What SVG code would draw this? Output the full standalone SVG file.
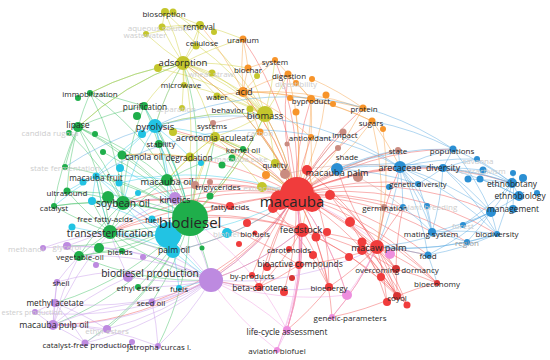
<svg xmlns="http://www.w3.org/2000/svg" width="550" height="360" viewBox="0 0 550 360">
<style>
text{font-family:"Open Sans","Noto Sans",sans-serif;fill:#262626;text-anchor:middle;dominant-baseline:central}
.f{fill:#cdcdcd}
.s{font-size:8px}.m{font-size:9.4px}.l{font-size:10.2px}.xl{font-size:15px}
#edges path{fill:none;stroke-width:.9;stroke-opacity:.5}
.er{stroke:#f25050}.eg{stroke:#3cbf62}.ey{stroke:#cfcf36}.eo{stroke:#f7a045}.eb{stroke:#55a6e0}.ec{stroke:#38cde8}.ep{stroke:#c597e8}.ek{stroke:#f09ae0}.en{stroke:#d09a90}
.Y{fill:#c4c62c}.O{fill:#f7942a}.R{fill:#f03c3c}.D{fill:#d63434}.G{fill:#1fae4b}.C{fill:#22c3e3}.B{fill:#2b8fd3}.P{fill:#bd8ae0}.K{fill:#ee8ede}.N{fill:#c98b80}
</style>
<rect width="550" height="360" fill="#fff"/>
<g id="edges">
<path class="er" d="M296 195A300 300 0 0 1 302 230"/><path class="er" d="M296 195A300 300 0 0 1 377 247"/><path class="er" d="M296 195A300 300 0 0 1 396 269"/><path class="er" d="M296 195A300 300 0 0 1 437 283"/><path class="er" d="M296 195A300 300 0 0 1 397 296"/><path class="er" d="M296 195A300 300 0 0 1 332 317"/><path class="er" d="M296 195A300 300 0 0 1 299 265"/><path class="er" d="M296 195A300 300 0 0 0 267 267"/><path class="er" d="M296 195A300 300 0 0 0 259 287"/><path class="er" d="M296 195A300 300 0 0 1 284 292"/><path class="er" d="M296 195A300 300 0 0 0 252 275"/><path class="er" d="M296 195A300 300 0 0 1 329 287"/><path class="er" d="M296 195A300 300 0 0 1 347 295"/><path class="er" d="M296 195A300 300 0 0 0 230 206"/><path class="er" d="M296 195A300 300 0 0 1 287 330"/><path class="er" d="M296 195A300 300 0 0 1 400 167"/><path class="er" d="M296 195A300 300 0 0 1 418 184"/><path class="er" d="M296 195A300 300 0 0 1 403 207"/><path class="er" d="M296 195A300 300 0 0 1 337 169"/><path class="er" d="M296 195A300 300 0 0 0 190 218"/><path class="er" d="M296 195A300 300 0 0 1 211 280"/><path class="er" d="M296 195A300 300 0 0 0 215 137"/><path class="er" d="M296 195A300 300 0 0 0 265 114"/><path class="er" d="M296 195A300 300 0 0 0 243 92"/><path class="er" d="M296 195A300 300 0 0 1 311 137"/><path class="er" d="M296 195A300 300 0 0 1 343 132"/><path class="er" d="M296 195A300 300 0 0 1 338 148"/><path class="er" d="M296 195A300 300 0 0 1 398 150"/><path class="er" d="M296 195A300 300 0 0 0 275 163"/><path class="er" d="M296 195A300 300 0 0 0 195 185"/><path class="er" d="M296 195A300 300 0 0 0 167 180"/><path class="er" d="M296 195A300 300 0 0 0 123 203"/><path class="er" d="M296 195A300 300 0 0 0 110 232"/><path class="er" d="M296 195A300 300 0 0 1 173 251"/><path class="er" d="M296 195A300 300 0 0 0 175 198"/><path class="er" d="M296 195A300 300 0 0 0 155 126"/><path class="er" d="M296 195A300 300 0 0 1 428 255"/><path class="er" d="M296 195A300 300 0 0 1 432 232"/><path class="er" d="M296 195A300 300 0 0 1 363 108"/><path class="er" d="M296 195A300 300 0 0 1 372 121"/><path class="er" d="M296 195A300 300 0 0 1 311 99"/><path class="er" d="M296 195A300 300 0 0 0 122 155"/><path class="er" d="M296 195A300 300 0 0 0 183 63"/><path class="er" d="M296 195A300 300 0 0 1 288 74"/><path class="er" d="M296 195A300 300 0 0 1 152 302"/><path class="er" d="M296 195A300 300 0 0 1 53 325"/><path class="er" d="M296 195A300 300 0 0 1 443 168"/><path class="er" d="M296 195A300 300 0 0 1 453 149"/><path class="er" d="M296 195A300 300 0 0 1 491 212"/><path class="er" d="M296 195A300 300 0 0 1 512 183"/><path class="er" d="M296 195A300 300 0 0 0 260 132"/><path class="er" d="M296 195A300 300 0 0 0 243 149"/><path class="er" d="M296 195A300 300 0 0 1 467 242"/><path class="er" d="M296 195A300 300 0 0 0 275 60"/><path class="er" d="M296 195A300 300 0 0 0 243 39"/><path class="er" d="M296 195A300 300 0 0 1 497 234"/>
<path class="er" d="M302 230A300 300 0 0 0 190 218"/><path class="er" d="M302 230A300 300 0 0 1 211 280"/><path class="er" d="M302 230A300 300 0 0 1 299 265"/><path class="er" d="M302 230A300 300 0 0 1 259 287"/><path class="er" d="M302 230A300 300 0 0 1 287 330"/><path class="er" d="M302 230A300 300 0 0 1 377 247"/><path class="er" d="M302 230A300 300 0 0 1 329 287"/><path class="er" d="M302 230A300 300 0 0 0 110 232"/><path class="er" d="M302 230A300 300 0 0 0 123 203"/><path class="er" d="M302 230A300 300 0 0 1 397 296"/><path class="er" d="M302 230A300 300 0 0 1 396 269"/>
<path class="er" d="M377 247A300 300 0 0 1 397 296"/><path class="er" d="M377 247A300 300 0 0 1 396 269"/><path class="er" d="M377 247A300 300 0 0 1 437 283"/><path class="er" d="M377 247A300 300 0 0 1 428 255"/><path class="er" d="M377 247A300 300 0 0 1 403 207"/><path class="er" d="M377 247A300 300 0 0 1 400 167"/><path class="er" d="M377 247A300 300 0 0 1 332 317"/><path class="er" d="M377 247A300 300 0 0 1 329 287"/><path class="er" d="M377 247A300 300 0 0 1 299 265"/><path class="er" d="M377 247A300 300 0 0 1 337 169"/><path class="er" d="M377 247A300 300 0 0 1 387 302"/><path class="er" d="M377 247A300 300 0 0 1 407 305"/><path class="er" d="M362 250A300 300 0 0 1 397 296"/><path class="er" d="M362 250A300 300 0 0 1 381 277"/>
<path class="er" d="M396 269A300 300 0 0 1 397 296"/><path class="er" d="M396 269A300 300 0 0 1 403 207"/><path class="er" d="M396 269A300 300 0 0 1 437 283"/><path class="er" d="M397 296A300 300 0 0 1 437 283"/><path class="er" d="M397 296A300 300 0 0 1 332 317"/><path class="er" d="M381 277A300 300 0 0 1 407 305"/><path class="er" d="M299 265A300 300 0 0 1 259 287"/><path class="er" d="M299 265A300 300 0 0 1 267 267"/><path class="er" d="M259 287A300 300 0 0 1 252 275"/><path class="er" d="M329 287A300 300 0 0 1 287 330"/><path class="er" d="M230 206A300 300 0 0 0 190 218"/><path class="er" d="M230 206A300 300 0 0 0 123 203"/><path class="er" d="M230 206A300 300 0 0 0 110 232"/><path class="er" d="M299 265A300 300 0 0 0 190 218"/><path class="er" d="M259 287A300 300 0 0 1 211 280"/><path class="er" d="M330 195A300 300 0 0 1 396 269"/><path class="er" d="M350 222A300 300 0 0 1 397 296"/><path class="er" d="M307 170A300 300 0 0 1 377 247"/><path class="er" d="M316 237A300 300 0 0 1 407 305"/><path class="er" d="M273 208A300 300 0 0 1 329 287"/><path class="er" d="M330 195A300 300 0 0 1 387 302"/><path class="er" d="M350 222A300 300 0 0 1 437 283"/><path class="er" d="M307 170A300 300 0 0 1 329 287"/><path class="er" d="M362 242A300 300 0 0 1 407 305"/>
<path class="eg" d="M190 218A300 300 0 0 1 110 232"/><path class="eg" d="M190 218A300 300 0 0 0 123 203"/><path class="eg" d="M190 218A300 300 0 0 0 122 155"/><path class="eg" d="M190 218A300 300 0 0 0 167 180"/><path class="eg" d="M190 218A300 300 0 0 0 78 127"/><path class="eg" d="M190 218A300 300 0 0 0 90 93"/><path class="eg" d="M190 218A300 300 0 0 0 144 106"/><path class="eg" d="M190 218A300 300 0 0 0 159 144"/><path class="eg" d="M190 218A300 300 0 0 0 190 157"/><path class="eg" d="M190 218A300 300 0 0 0 67 191"/><path class="eg" d="M190 218A300 300 0 0 0 54 206"/><path class="eg" d="M190 218A300 300 0 0 0 92 201"/><path class="eg" d="M190 218A300 300 0 0 1 79 256"/><path class="eg" d="M190 218A300 300 0 0 1 122 251"/><path class="eg" d="M190 218A300 300 0 0 1 173 251"/><path class="eg" d="M190 218A300 300 0 0 1 138 287"/><path class="eg" d="M190 218A300 300 0 0 1 211 280"/><path class="eg" d="M190 218A300 300 0 0 0 155 126"/><path class="eg" d="M190 218A300 300 0 0 0 96 176"/><path class="eg" d="M190 218A300 300 0 0 0 65 167"/><path class="eg" d="M190 218A300 300 0 0 0 243 149"/><path class="eg" d="M190 218A300 300 0 0 0 215 137"/><path class="eg" d="M190 218A300 300 0 0 0 183 63"/><path class="eg" d="M190 218A300 300 0 0 0 265 114"/><path class="eg" d="M190 218A300 300 0 0 1 53 325"/><path class="eg" d="M190 218A300 300 0 0 1 55 303"/><path class="eg" d="M190 218A300 300 0 0 1 85 343"/><path class="eg" d="M190 218A300 300 0 0 1 152 302"/><path class="eg" d="M190 218A300 300 0 0 1 158 346"/><path class="eg" d="M190 218A300 300 0 0 1 67 246"/><path class="eg" d="M190 218A300 300 0 0 1 107 329"/>
<path class="eg" d="M78 127A300 300 0 0 1 90 93"/><path class="eg" d="M78 127A300 300 0 0 1 144 106"/><path class="eg" d="M78 127A300 300 0 0 1 110 232"/><path class="eg" d="M78 127A300 300 0 0 1 123 203"/><path class="eg" d="M78 127A300 300 0 0 0 67 191"/><path class="eg" d="M78 127A300 300 0 0 0 54 206"/><path class="eg" d="M78 127A300 300 0 0 0 65 167"/><path class="eg" d="M78 127A300 300 0 0 1 167 180"/><path class="eg" d="M78 127A300 300 0 0 1 122 155"/><path class="eg" d="M78 127A300 300 0 0 1 183 63"/><path class="eg" d="M110 232A300 300 0 0 1 123 203"/><path class="eg" d="M110 232A300 300 0 0 1 54 206"/><path class="eg" d="M110 232A300 300 0 0 1 67 191"/><path class="eg" d="M110 232A300 300 0 0 0 79 256"/><path class="eg" d="M110 232A300 300 0 0 1 92 201"/><path class="eg" d="M110 232A300 300 0 0 0 122 251"/><path class="eg" d="M110 232A300 300 0 0 0 211 280"/><path class="eg" d="M110 232A300 300 0 0 1 96 176"/><path class="eg" d="M110 232A300 300 0 0 0 173 251"/><path class="eg" d="M110 232A300 300 0 0 1 167 180"/><path class="eg" d="M123 203A300 300 0 0 1 167 180"/><path class="eg" d="M123 203A300 300 0 0 1 122 155"/><path class="eg" d="M123 203A300 300 0 0 0 92 201"/><path class="eg" d="M123 203A300 300 0 0 0 54 206"/><path class="eg" d="M123 203A300 300 0 0 0 67 191"/><path class="eg" d="M123 203A300 300 0 0 0 79 256"/><path class="eg" d="M123 203A300 300 0 0 1 144 106"/><path class="eg" d="M90 93A300 300 0 0 1 144 106"/><path class="eg" d="M90 93A300 300 0 0 1 123 203"/><path class="eg" d="M90 93A300 300 0 0 1 183 63"/><path class="eg" d="M79 256A300 300 0 0 1 122 251"/><path class="eg" d="M79 256A300 300 0 0 0 211 280"/><path class="eg" d="M243 149A300 300 0 0 0 215 137"/><path class="eg" d="M243 149A300 300 0 0 0 167 180"/><path class="eg" d="M144 106A300 300 0 0 1 167 180"/><path class="eg" d="M103 152A300 300 0 0 1 190 218"/><path class="eg" d="M69 133A300 300 0 0 1 123 203"/>
<path class="ec" d="M155 126A300 300 0 0 1 190 218"/><path class="ec" d="M155 126A300 300 0 0 0 122 155"/><path class="ec" d="M155 126A300 300 0 0 1 159 144"/><path class="ec" d="M155 126A300 300 0 0 0 96 176"/><path class="ec" d="M155 126A300 300 0 0 0 123 203"/><path class="ec" d="M155 126A300 300 0 0 1 183 63"/><path class="ec" d="M155 126A300 300 0 0 1 173 251"/><path class="ec" d="M155 126A300 300 0 0 1 265 114"/><path class="ec" d="M155 126A300 300 0 0 1 144 106"/><path class="ec" d="M155 126A300 300 0 0 1 167 180"/><path class="ec" d="M155 126A300 300 0 0 1 190 157"/><path class="ec" d="M155 126A300 300 0 0 1 215 137"/><path class="ec" d="M173 251A300 300 0 0 0 110 232"/><path class="ec" d="M173 251A300 300 0 0 0 296 195"/><path class="ec" d="M173 251A300 300 0 0 0 211 280"/><path class="ec" d="M173 251A300 300 0 0 1 123 203"/><path class="ec" d="M173 251A300 300 0 0 1 179 288"/><path class="ec" d="M168 235A300 300 0 0 1 110 232"/><path class="ec" d="M168 235A300 300 0 0 0 123 203"/><path class="ec" d="M168 235A300 300 0 0 0 96 176"/><path class="ec" d="M168 235A300 300 0 0 0 92 201"/><path class="ec" d="M168 235A300 300 0 0 0 167 180"/><path class="ec" d="M168 235A300 300 0 0 0 152 219"/><path class="ec" d="M168 235A300 300 0 0 0 296 195"/><path class="ec" d="M168 235A300 300 0 0 0 211 280"/><path class="ec" d="M168 235A300 300 0 0 1 72 227"/><path class="ec" d="M96 176A300 300 0 0 1 123 203"/><path class="ec" d="M96 176A300 300 0 0 0 110 232"/><path class="ec" d="M96 176A300 300 0 0 1 167 180"/><path class="ec" d="M96 176A300 300 0 0 0 92 201"/><path class="ec" d="M96 176A300 300 0 0 0 67 191"/><path class="ec" d="M96 176A300 300 0 0 0 54 206"/><path class="ec" d="M179 288A300 300 0 0 1 211 280"/><path class="ec" d="M120 168A300 300 0 0 1 190 218"/><path class="ec" d="M119 183A300 300 0 0 1 296 195"/>
<path class="ep" d="M211 280A300 300 0 0 0 57 282"/><path class="ep" d="M211 280A300 300 0 0 1 55 303"/><path class="ep" d="M211 280A300 300 0 0 1 53 325"/><path class="ep" d="M211 280A300 300 0 0 1 107 329"/><path class="ep" d="M211 280A300 300 0 0 1 85 343"/><path class="ep" d="M211 280A300 300 0 0 1 158 346"/><path class="ep" d="M211 280A300 300 0 0 1 152 302"/><path class="ep" d="M211 280A300 300 0 0 1 35 312"/><path class="ep" d="M211 280A300 300 0 0 0 67 246"/><path class="ep" d="M211 280A300 300 0 0 0 43 248"/><path class="ep" d="M211 280A300 300 0 0 0 79 256"/><path class="ep" d="M211 280A300 300 0 0 1 138 287"/><path class="ep" d="M211 280A300 300 0 0 0 175 198"/><path class="ep" d="M211 280A300 300 0 0 0 110 232"/><path class="ep" d="M211 280A300 300 0 0 0 123 203"/><path class="ep" d="M211 280A300 300 0 0 0 296 195"/><path class="ep" d="M211 280A300 300 0 0 0 302 230"/><path class="ep" d="M211 280A300 300 0 0 0 329 287"/><path class="ep" d="M211 280A300 300 0 0 0 377 247"/><path class="ep" d="M211 280A300 300 0 0 1 128 277"/>
<path class="ep" d="M53 325A300 300 0 0 0 55 303"/><path class="ep" d="M53 325A300 300 0 0 1 85 343"/><path class="ep" d="M53 325A300 300 0 0 1 107 329"/><path class="ep" d="M53 325A300 300 0 0 1 158 346"/><path class="ep" d="M53 325A300 300 0 0 1 35 312"/><path class="ep" d="M53 325A300 300 0 0 1 57 282"/><path class="ep" d="M53 325A300 300 0 0 1 110 232"/><path class="ep" d="M53 325A300 300 0 0 1 79 256"/><path class="ep" d="M53 325A300 300 0 0 1 152 302"/><path class="ep" d="M55 303A300 300 0 0 1 85 343"/><path class="ep" d="M55 303A300 300 0 0 1 107 329"/><path class="ep" d="M55 303A300 300 0 0 1 57 282"/><path class="ep" d="M55 303A300 300 0 0 0 35 312"/><path class="ep" d="M175 198A300 300 0 0 1 190 218"/><path class="ep" d="M175 198A300 300 0 0 0 123 203"/><path class="ep" d="M175 198A300 300 0 0 1 167 180"/><path class="ep" d="M175 198A300 300 0 0 0 110 232"/><path class="ep" d="M67 246A300 300 0 0 1 110 232"/><path class="ep" d="M67 246A300 300 0 0 0 79 256"/><path class="ep" d="M43 248A300 300 0 0 1 110 232"/><path class="ep" d="M85 343A300 300 0 0 0 158 346"/><path class="ep" d="M85 343A300 300 0 0 1 107 329"/><path class="ep" d="M158 346A300 300 0 0 0 152 302"/><path class="ep" d="M57 282A300 300 0 0 1 79 256"/><path class="ep" d="M128 277A300 300 0 0 0 53 325"/><path class="ep" d="M128 277A300 300 0 0 1 110 232"/>
<path class="ek" d="M287 330A300 300 0 0 0 211 280"/><path class="ek" d="M287 330A300 300 0 0 0 302 230"/><path class="ek" d="M287 330A300 300 0 0 1 277 350"/><path class="ek" d="M287 330A300 300 0 0 0 190 218"/><path class="ek" d="M287 330A300 300 0 0 0 296 195"/><path class="ek" d="M277 350A300 300 0 0 1 211 280"/><path class="ek" d="M277 350A300 300 0 0 0 302 230"/><path class="ek" d="M277 350A300 300 0 0 0 296 195"/><path class="ek" d="M347 295A300 300 0 0 0 296 195"/><path class="ek" d="M347 295A300 300 0 0 1 211 280"/><path class="ek" d="M347 295A300 300 0 0 0 377 247"/><path class="ek" d="M332 317A300 300 0 0 0 377 247"/><path class="ek" d="M390 254A300 300 0 0 0 296 195"/>
<path class="ey" d="M183 63A300 300 0 0 0 165 12"/><path class="ey" d="M183 63A300 300 0 0 0 200 25"/><path class="ey" d="M183 63A300 300 0 0 1 162 27"/><path class="ey" d="M183 63A300 300 0 0 1 146 34"/><path class="ey" d="M183 63A300 300 0 0 0 196 44"/><path class="ey" d="M183 63A300 300 0 0 1 184 85"/><path class="ey" d="M183 63A300 300 0 0 1 212 73"/><path class="ey" d="M183 63A300 300 0 0 1 217 96"/><path class="ey" d="M183 63A300 300 0 0 1 265 114"/><path class="ey" d="M183 63A300 300 0 0 1 243 92"/><path class="ey" d="M183 63A300 300 0 0 1 248 68"/><path class="ey" d="M183 63A300 300 0 0 1 243 39"/><path class="ey" d="M183 63A300 300 0 0 0 155 126"/><path class="ey" d="M183 63A300 300 0 0 0 78 127"/><path class="ey" d="M183 63A300 300 0 0 0 90 93"/><path class="ey" d="M183 63A300 300 0 0 0 144 106"/><path class="ey" d="M183 63A300 300 0 0 1 182 108"/><path class="ey" d="M183 63A300 300 0 0 1 215 137"/><path class="ey" d="M183 63A300 300 0 0 1 190 157"/><path class="ey" d="M183 63A300 300 0 0 1 296 195"/><path class="ey" d="M165 12A300 300 0 0 1 200 25"/><path class="ey" d="M165 12A300 300 0 0 0 162 27"/><path class="ey" d="M165 12A300 300 0 0 1 196 44"/><path class="ey" d="M200 25A300 300 0 0 0 162 27"/><path class="ey" d="M200 25A300 300 0 0 1 196 44"/><path class="ey" d="M200 25A300 300 0 0 0 146 34"/><path class="ey" d="M200 25A300 300 0 0 1 243 39"/><path class="ey" d="M173 12A300 300 0 0 1 265 114"/>
<path class="ey" d="M265 114A300 300 0 0 0 243 92"/><path class="ey" d="M265 114A300 300 0 0 0 217 96"/><path class="ey" d="M265 114A300 300 0 0 0 250 109"/><path class="ey" d="M265 114A300 300 0 0 0 248 68"/><path class="ey" d="M265 114A300 300 0 0 0 275 60"/><path class="ey" d="M265 114A300 300 0 0 0 288 74"/><path class="ey" d="M265 114A300 300 0 0 0 155 126"/><path class="ey" d="M265 114A300 300 0 0 1 215 137"/><path class="ey" d="M265 114A300 300 0 0 1 275 163"/><path class="ey" d="M265 114A300 300 0 0 0 184 85"/><path class="ey" d="M265 114A300 300 0 0 0 196 44"/><path class="ey" d="M265 114A300 300 0 0 0 212 73"/><path class="ey" d="M265 114A300 300 0 0 1 296 195"/><path class="ey" d="M265 114A300 300 0 0 1 190 218"/><path class="ey" d="M215 137A300 300 0 0 1 296 195"/><path class="ey" d="M215 137A300 300 0 0 0 190 157"/><path class="ey" d="M215 137A300 300 0 0 0 213 123"/><path class="ey" d="M215 137A300 300 0 0 1 243 149"/><path class="ey" d="M215 137A300 300 0 0 0 190 218"/><path class="ey" d="M215 137A300 300 0 0 1 275 163"/><path class="ey" d="M215 137A300 300 0 0 0 195 185"/><path class="ey" d="M215 137A300 300 0 0 0 167 180"/><path class="ey" d="M215 137A300 300 0 0 1 262 187"/><path class="ey" d="M190 157A300 300 0 0 0 167 180"/><path class="ey" d="M190 157A300 300 0 0 0 122 155"/><path class="ey" d="M275 163A300 300 0 0 1 296 195"/><path class="ey" d="M262 187A300 300 0 0 1 296 195"/><path class="ey" d="M173 132A300 300 0 0 1 296 195"/><path class="ey" d="M158 68A300 300 0 0 1 265 114"/>
<path class="eo" d="M243 92A300 300 0 0 1 243 39"/><path class="eo" d="M243 92A300 300 0 0 1 248 68"/><path class="eo" d="M243 92A300 300 0 0 1 288 74"/><path class="eo" d="M243 92A300 300 0 0 1 275 60"/><path class="eo" d="M243 92A300 300 0 0 1 311 99"/><path class="eo" d="M243 92A300 300 0 0 1 296 195"/><path class="eo" d="M243 92A300 300 0 0 0 217 96"/><path class="eo" d="M243 92A300 300 0 0 1 372 121"/><path class="eo" d="M243 92A300 300 0 0 1 363 108"/><path class="eo" d="M243 92A300 300 0 0 1 311 137"/><path class="eo" d="M243 92A300 300 0 0 1 260 132"/><path class="eo" d="M243 92A300 300 0 0 0 200 25"/><path class="eo" d="M311 99A300 300 0 0 1 363 108"/><path class="eo" d="M311 99A300 300 0 0 1 372 121"/><path class="eo" d="M311 99A300 300 0 0 0 288 74"/><path class="eo" d="M311 99A300 300 0 0 0 296 83"/><path class="eo" d="M311 99A300 300 0 0 1 296 195"/><path class="eo" d="M311 99A300 300 0 0 1 311 137"/><path class="eo" d="M288 74A300 300 0 0 0 275 60"/><path class="eo" d="M288 74A300 300 0 0 1 296 83"/><path class="eo" d="M288 74A300 300 0 0 1 296 195"/><path class="eo" d="M372 121A300 300 0 0 1 296 195"/><path class="eo" d="M372 121A300 300 0 0 1 377 247"/><path class="eo" d="M372 121A300 300 0 0 1 400 167"/><path class="eo" d="M363 108A300 300 0 0 1 296 195"/><path class="eo" d="M275 60A300 300 0 0 0 248 68"/><path class="eo" d="M243 39A300 300 0 0 1 248 68"/><path class="eo" d="M260 132A300 300 0 0 1 296 195"/><path class="eo" d="M311 137A300 300 0 0 1 302 230"/><path class="eo" d="M326 95A300 300 0 0 1 296 195"/><path class="eo" d="M383 129A300 300 0 0 1 377 247"/><path class="eo" d="M296 112A300 300 0 0 1 296 195"/><path class="eo" d="M312 79A300 300 0 0 1 363 108"/>
<path class="eb" d="M400 167A300 300 0 0 0 398 150"/><path class="eb" d="M400 167A300 300 0 0 1 453 149"/><path class="eb" d="M400 167A300 300 0 0 1 443 168"/><path class="eb" d="M400 167A300 300 0 0 1 418 184"/><path class="eb" d="M400 167A300 300 0 0 1 403 207"/><path class="eb" d="M400 167A300 300 0 0 0 337 169"/><path class="eb" d="M400 167A300 300 0 0 1 377 247"/><path class="eb" d="M400 167A300 300 0 0 1 512 183"/><path class="eb" d="M400 167A300 300 0 0 1 491 212"/><path class="eb" d="M400 167A300 300 0 0 1 432 232"/><path class="eb" d="M400 167A300 300 0 0 1 427 206"/><path class="eb" d="M400 167A300 300 0 0 1 428 255"/><path class="eb" d="M400 167A300 300 0 0 1 497 234"/><path class="eb" d="M400 167A300 300 0 0 1 477 159"/><path class="eb" d="M400 167A300 300 0 0 0 65 167"/><path class="eb" d="M400 167A300 300 0 0 0 96 176"/>
<path class="eb" d="M443 168A300 300 0 0 0 453 149"/><path class="eb" d="M443 168A300 300 0 0 1 512 183"/><path class="eb" d="M443 168A300 300 0 0 1 491 212"/><path class="eb" d="M443 168A300 300 0 0 1 477 159"/><path class="eb" d="M443 168A300 300 0 0 1 483 170"/><path class="eb" d="M443 168A300 300 0 0 1 418 184"/><path class="eb" d="M443 168A300 300 0 0 1 432 232"/><path class="eb" d="M443 168A300 300 0 0 1 497 234"/><path class="eb" d="M443 168A300 300 0 0 1 519 196"/><path class="eb" d="M512 183A300 300 0 0 1 519 196"/><path class="eb" d="M512 183A300 300 0 0 1 491 212"/><path class="eb" d="M512 183A300 300 0 0 0 453 149"/><path class="eb" d="M512 183A300 300 0 0 0 477 159"/><path class="eb" d="M512 183A300 300 0 0 0 483 170"/><path class="eb" d="M512 183A300 300 0 0 1 497 234"/><path class="eb" d="M512 183A300 300 0 0 1 463 225"/><path class="eb" d="M491 212A300 300 0 0 1 497 234"/><path class="eb" d="M491 212A300 300 0 0 1 463 225"/><path class="eb" d="M491 212A300 300 0 0 0 519 196"/><path class="eb" d="M491 212A300 300 0 0 1 432 232"/><path class="eb" d="M491 212A300 300 0 0 1 467 242"/><path class="eb" d="M491 212A300 300 0 0 1 428 255"/><path class="eb" d="M491 212A300 300 0 0 0 453 149"/><path class="eb" d="M491 212A300 300 0 0 1 377 247"/><path class="eb" d="M337 169A300 300 0 0 1 443 168"/><path class="eb" d="M337 169A300 300 0 0 1 418 184"/><path class="eb" d="M337 169A300 300 0 0 1 453 149"/><path class="eb" d="M337 169A300 300 0 0 1 398 150"/><path class="eb" d="M497 234A300 300 0 0 1 467 242"/><path class="eb" d="M497 234A300 300 0 0 1 428 255"/><path class="eb" d="M497 234A300 300 0 0 1 377 247"/><path class="eb" d="M497 234A300 300 0 0 0 432 232"/><path class="eb" d="M432 232A300 300 0 0 0 418 184"/><path class="eb" d="M432 232A300 300 0 0 0 427 206"/><path class="eb" d="M432 232A300 300 0 0 1 467 242"/><path class="eb" d="M432 232A300 300 0 0 0 403 207"/><path class="eb" d="M428 255A300 300 0 0 0 377 247"/><path class="eb" d="M428 255A300 300 0 0 1 437 283"/><path class="eb" d="M467 242A300 300 0 0 1 377 247"/><path class="eb" d="M453 149A300 300 0 0 0 372 121"/><path class="eb" d="M453 149A300 300 0 0 0 155 126"/><path class="eb" d="M468 179A300 300 0 0 1 512 183"/><path class="eb" d="M480 179A300 300 0 0 1 519 196"/><path class="eb" d="M523 178A300 300 0 0 1 537 193"/><path class="eb" d="M513 173A300 300 0 0 1 513 209"/>
<path class="en" d="M398 150A300 300 0 0 0 296 195"/><path class="en" d="M338 148A300 300 0 0 0 296 195"/><path class="en" d="M343 132A300 300 0 0 0 296 195"/><path class="en" d="M213 123A300 300 0 0 1 265 114"/><path class="en" d="M195 185A300 300 0 0 0 190 218"/><path class="en" d="M195 185A300 300 0 0 0 167 180"/><path class="en" d="M285 174A300 300 0 0 1 400 167"/><path class="en" d="M358 177A300 300 0 0 1 403 207"/><path class="en" d="M384 207A300 300 0 0 1 377 247"/>
</g>
<g id="minor-nodes">
<circle class="R" cx="330" cy="195" r="5"/><circle class="R" cx="307" cy="170" r="5"/><circle class="R" cx="350" cy="222" r="5"/><circle class="R" cx="316" cy="237" r="4.5"/><circle class="R" cx="273" cy="208" r="5"/><circle class="R" cx="247" cy="223" r="4"/><circle class="R" cx="239" cy="244" r="3"/><circle class="R" cx="313" cy="255" r="4"/><circle class="R" cx="349" cy="257" r="4"/><circle class="R" cx="362" cy="242" r="4.5"/><circle class="D" cx="292" cy="278" r="3"/><circle class="R" cx="327" cy="232" r="4"/><circle class="R" cx="362" cy="250" r="5"/><circle class="R" cx="381" cy="277" r="4"/><circle class="R" cx="387" cy="302" r="4"/><circle class="R" cx="407" cy="305" r="3.5"/><circle class="R" cx="267" cy="267" r="4"/><circle class="R" cx="284" cy="292" r="4"/><circle class="K" cx="347" cy="295" r="5"/><circle class="K" cx="390" cy="254" r="5"/>
<circle class="N" cx="285" cy="174" r="5"/><circle class="N" cx="358" cy="177" r="5"/><circle class="N" cx="384" cy="207" r="3"/><circle class="N" cx="287" cy="144" r="2.5"/><circle class="N" cx="210" cy="182" r="3"/>
<circle class="Y" cx="158" cy="68" r="4"/><circle class="Y" cx="173" cy="12" r="3.5"/><circle class="Y" cx="214" cy="32" r="3"/><circle class="Y" cx="257" cy="76" r="3"/><circle class="Y" cx="173" cy="132" r="4"/>
<circle class="O" cx="312" cy="79" r="3"/><circle class="O" cx="290" cy="98" r="3"/><circle class="O" cx="326" cy="95" r="3.5"/><circle class="O" cx="333" cy="104" r="3"/><circle class="O" cx="296" cy="112" r="3.5"/><circle class="O" cx="383" cy="129" r="3"/><circle class="O" cx="266" cy="175" r="4"/>
<circle class="B" cx="389" cy="187" r="3"/><circle class="B" cx="468" cy="179" r="3.5"/><circle class="B" cx="480" cy="179" r="3.5"/><circle class="B" cx="523" cy="178" r="4"/><circle class="B" cx="513" cy="173" r="3"/><circle class="B" cx="537" cy="193" r="3"/><circle class="B" cx="513" cy="209" r="4"/>
<circle class="G" cx="69" cy="133" r="3"/><circle class="G" cx="95" cy="134" r="3"/><circle class="G" cx="103" cy="152" r="3"/><circle class="G" cx="78" cy="98" r="3"/><circle class="G" cx="137" cy="116" r="4"/><circle class="G" cx="108" cy="197" r="6"/><circle class="G" cx="99" cy="248" r="5"/><circle class="G" cx="232" cy="158" r="3.5"/><circle class="G" cx="222" cy="165" r="3.5"/><circle class="G" cx="210" cy="196" r="3.5"/><circle class="G" cx="202" cy="248" r="2.5"/>
<circle class="C" cx="142" cy="134" r="4"/><circle class="C" cx="83" cy="182" r="3.5"/><circle class="C" cx="120" cy="168" r="4"/><circle class="C" cx="119" cy="183" r="3.5"/><circle class="C" cx="92" cy="201" r="4"/><circle class="C" cx="72" cy="227" r="3.5"/><circle class="C" cx="138" cy="193" r="3"/><circle class="C" cx="201" cy="163" r="3"/>
<circle class="P" cx="128" cy="277" r="5"/><circle class="P" cx="43" cy="248" r="3"/><circle class="P" cx="132" cy="342" r="3"/><circle class="P" cx="96" cy="265" r="3"/><circle class="P" cx="143" cy="257" r="3"/>
</g>
<g id="nodes">
<g id="n-macauba"><circle class="R" cx="280" cy="200" r="10"/><circle class="R" cx="312" cy="202" r="10"/><circle class="R" cx="297" cy="194" r="17"/><text class="xl" x="292" y="201">macauba</text></g>
<g id="n-biodiesel"><circle class="C" cx="168" cy="235" r="13"/><circle class="G" cx="190" cy="218" r="18"/><text class="xl" x="190" y="222">biodiesel</text></g>
<g id="n-biodiesel-production"><circle class="P" cx="211" cy="280" r="12"/><text class="l" x="150" y="273">biodiesel production</text></g>
<g id="n-feedstock"><circle class="R" cx="302" cy="230" r="7"/><text class="m" x="301" y="229">feedstock</text></g>
<g id="n-macaw-palm"><circle class="R" cx="377" cy="247" r="7"/><text class="m" x="379" y="247">macaw palm</text></g>
<g id="n-transesterification"><circle class="G" cx="110" cy="232" r="7"/><text class="l" x="110" y="233">transesterification</text></g>
<g id="n-soybean-oil"><circle class="G" cx="123" cy="203" r="7"/><text class="l" x="123" y="203">soybean oil</text></g>
<g id="n-palm-oil"><circle class="C" cx="173" cy="251" r="7"/><text class="m" style="font-size:8.6px" x="174" y="250">palm oil</text></g>
<g id="n-kinetics"><circle class="P" cx="175" cy="198" r="6"/><text class="m" style="font-size:8.8px" x="175" y="200">kinetics</text></g>
<g id="n-macauba-oil"><circle class="G" cx="167" cy="180" r="6"/><text class="m" x="167" y="181">macauba oil</text></g>
<g id="n-pyrolysis"><circle class="C" cx="155" cy="126" r="7"/><text class="m" x="155" y="126">pyrolysis</text></g>
<g id="n-adsorption"><circle class="Y" cx="183" cy="63" r="7"/><text class="m" style="font-size:9.6px" x="183" y="62">adsorption</text></g>
<g id="n-biomass"><circle class="Y" cx="265" cy="114" r="8"/><text class="m" x="265" y="115">biomass</text></g>
<g id="n-acrocomia-aculeata"><circle class="Y" cx="215" cy="137" r="5"/><text class="s" style="font-size:8.6px" x="215" y="138">acrocomia aculeata</text></g>
<g id="n-macauba-palm"><circle class="B" cx="337" cy="169" r="6"/><text class="m" style="font-size:9.1px" x="337" y="172">macauba palm</text></g>
<g id="n-arecaceae"><circle class="B" cx="400" cy="167" r="6"/><text class="m" style="font-size:9.1px" x="400" y="167">arecaceae</text></g>
<g id="n-biosorption"><circle class="Y" cx="165" cy="12" r="4"/><text class="s" x="164" y="13">biosorption</text></g>
<g id="n-removal"><circle class="Y" cx="200" cy="25" r="4"/><text class="s" style="font-size:8.4px" x="199" y="26">removal</text></g>
<g id="n-aqueous-solution"><circle class="Y" cx="162" cy="27" r="3.5"/><text class="s f" x="160" y="27">aqueous solution</text></g>
<g id="n-wastewater"><circle class="Y" cx="146" cy="34" r="3"/><text class="s f" x="145" y="34">wastewater</text></g>
<g id="n-cellulose"><circle class="Y" cx="196" cy="46" r="3.5"/><text class="s" x="202" y="42">cellulose</text></g>
<g id="n-microwave"><circle class="Y" cx="184" cy="85" r="3"/><text class="s" x="181" y="84">microwave</text></g>
<g id="n-wheat-straw"><circle class="Y" cx="212" cy="73" r="3.5"/><text class="s f" x="211" y="73">wheat straw</text></g>
<g id="n-water"><circle class="Y" cx="217" cy="96" r="3.5"/><text class="s" x="217" y="96">water</text></g>
<g id="n-behavior"><circle class="Y" cx="250" cy="109" r="3.5"/><text class="s" x="228" y="109">behavior</text></g>
<g id="n-separation"><circle class="Y" cx="182" cy="108" r="3"/><text class="s f" x="176" y="108">separation</text></g>
<g id="n-degradation"><circle class="Y" cx="190" cy="157" r="4.5"/><text class="s" style="font-size:8.3px" x="189" y="157">degradation</text></g>
<g id="n-quality"><circle class="Y" cx="275" cy="163" r="4"/><text class="s" x="275" y="164">quality</text></g>
<g id="n-extraction"><circle class="Y" cx="262" cy="187" r="5"/><text class="s f" x="262" y="187">extraction</text></g>
<g id="n-uranium"><circle class="O" cx="243" cy="39" r="3.5"/><text class="s" x="243" y="39">uranium</text></g>
<g id="n-system"><circle class="O" cx="275" cy="60" r="3"/><text class="s" x="275" y="61">system</text></g>
<g id="n-biochar"><circle class="O" cx="248" cy="68" r="3.5"/><text class="s" x="248" y="69">biochar</text></g>
<g id="n-digestion"><circle class="O" cx="288" cy="74" r="3.5"/><text class="s" x="289" y="75">digestion</text></g>
<g id="n-digestibility"><circle class="O" cx="296" cy="83" r="3"/><text class="s f" x="296" y="83">digestibility</text></g>
<g id="n-acid"><circle class="O" cx="243" cy="92" r="5"/><text class="s" style="font-size:9px" x="244" y="91">acid</text></g>
<g id="n-byproduct"><circle class="O" cx="311" cy="99" r="4"/><text class="s" x="311" y="100">byproduct</text></g>
<g id="n-protein"><circle class="O" cx="363" cy="108" r="3.5"/><text class="s" x="364" y="108">protein</text></g>
<g id="n-sugars"><circle class="O" cx="372" cy="121" r="3.5"/><text class="s" x="371" y="122">sugars</text></g>
<g id="n-antioxidant"><circle class="O" cx="311" cy="137" r="3"/><text class="s" x="310" y="137">antioxidant</text></g>
<g id="n-carbon"><circle class="O" cx="260" cy="132" r="3.5"/><text class="s f" x="260" y="132">carbon</text></g>
<g id="n-impact"><circle class="N" cx="343" cy="132" r="3.5"/><text class="s" x="345" y="134">impact</text></g>
<g id="n-shade"><circle class="N" cx="338" cy="148" r="3"/><text class="s" x="347" y="156">shade</text></g>
<g id="n-state"><circle class="N" cx="398" cy="150" r="3"/><text class="s" x="398" y="150">state</text></g>
<g id="n-systems"><circle class="N" cx="213" cy="123" r="3"/><text class="s" x="212" y="125">systems</text></g>
<g id="n-triglycerides"><circle class="N" cx="195" cy="185" r="4"/><text class="s" x="218" y="186">triglycerides</text></g>
<g id="n-kernel-oil"><circle class="G" cx="243" cy="149" r="3"/><text class="s" x="243" y="149">kernel oil</text></g>
<g id="n-macauba-cake"><text class="s f" x="241" y="158">macauba cake</text></g>
<g id="n-overcoming-dormancy"><circle class="D" cx="396" cy="269" r="4"/><text class="s" x="397" y="269">overcoming dormancy</text></g>
<g id="n-bioeconomy"><circle class="D" cx="437" cy="283" r="3"/><text class="s" x="437" y="283">bioeconomy</text></g>
<g id="n-coyol"><circle class="D" cx="397" cy="296" r="4"/><text class="s" x="397" y="297">coyol</text></g>
<g id="n-genetic-parameters"><circle class="K" cx="332" cy="317" r="3"/><text class="s" x="350" y="317">genetic-parameters</text></g>
<g id="n-bioactive-compounds"><circle class="R" cx="299" cy="265" r="4"/><text class="s" style="font-size:8.6px" x="300" y="264">bioactive compounds</text></g>
<g id="n-carotenoids"><circle class="R" cx="289" cy="249" r="3"/><text class="s" x="289" y="249">carotenoids</text></g>
<g id="n-beta-carotene"><circle class="R" cx="259" cy="287" r="4"/><text class="s" style="font-size:8.5px" x="260" y="287">beta-carotene</text></g>
<g id="n-by-products"><circle class="R" cx="252" cy="275" r="3"/><text class="s" x="252" y="275">by-products</text></g>
<g id="n-bioenergy"><circle class="R" cx="329" cy="287" r="4"/><text class="s" x="329" y="287">bioenergy</text></g>
<g id="n-fatty-acids"><circle class="R" cx="230" cy="206" r="4"/><text class="s" x="230" y="206">fatty-acids</text></g>
<g id="n-biofuels"><circle class="R" cx="255" cy="233" r="2.5"/><text class="s" x="255" y="233">biofuels</text></g>
<g id="n-biofuel"><circle class="C" cx="227" cy="233" r="5"/><text class="s f" x="226" y="233">biofuel</text></g>
<g id="n-life-cycle-assessment"><circle class="K" cx="287" cy="330" r="4"/><text class="s" style="font-size:8.3px" x="287" y="331">life-cycle assessment</text></g>
<g id="n-aviation-biofuel"><circle class="K" cx="277" cy="350" r="3"/><text class="s" x="277" y="350">aviation biofuel</text></g>
<g id="n-populations"><circle class="B" cx="453" cy="149" r="3.5"/><text class="s" x="452" y="150">populations</text></g>
<g id="n-diversity"><circle class="B" cx="443" cy="168" r="4"/><text class="s" style="font-size:8.7px" x="443" y="168">diversity</text></g>
<g id="n-savanna"><circle class="B" cx="477" cy="159" r="3"/><text class="s f" x="478" y="160">savanna</text></g>
<g id="n-extractivism"><circle class="B" cx="483" cy="170" r="3.5"/><text class="s f" x="483" y="170">extractivism</text></g>
<g id="n-ethnobotany"><circle class="B" cx="512" cy="183" r="5"/><text class="s" style="font-size:8.4px" x="512" y="183">ethnobotany</text></g>
<g id="n-ethnobiology"><circle class="B" cx="519" cy="196" r="5"/><text class="s" style="font-size:8.4px" x="520" y="195">ethnobiology</text></g>
<g id="n-management"><circle class="B" cx="491" cy="212" r="5"/><text class="s" style="font-size:8.4px" x="513" y="208">management</text></g>
<g id="n-genetic-diversity"><circle class="B" cx="418" cy="184" r="3"/><text class="s" style="font-size:7.6px" x="418" y="184">genetic diversity</text></g>
<g id="n-germination"><circle class="B" cx="403" cy="207" r="3"/><text class="s" x="385" y="207">germination</text></g>
<g id="n-plant-breeding"><circle class="B" cx="427" cy="206" r="3"/><text class="s f" x="430" y="206">plant breeding</text></g>
<g id="n-forest"><circle class="B" cx="463" cy="225" r="3"/><text class="s f" x="463" y="225">forest</text></g>
<g id="n-mating-system"><circle class="B" cx="432" cy="232" r="4"/><text class="s" x="431" y="233">mating system</text></g>
<g id="n-biodiversity"><circle class="B" cx="497" cy="234" r="3"/><text class="s" x="497" y="233">biodiversity</text></g>
<g id="n-region"><circle class="B" cx="467" cy="242" r="3"/><text class="s" style="fill:#9a9a9a" x="467" y="242">region</text></g>
<g id="n-food"><circle class="B" cx="428" cy="255" r="3.5"/><text class="s" x="428" y="255">food</text></g>
<g id="n-canola-oil"><circle class="G" cx="122" cy="155" r="4.5"/><text class="s" style="font-size:8.6px" x="144" y="157">canola oil</text></g>
<g id="n-stability"><circle class="G" cx="159" cy="144" r="4"/><text class="s" x="161" y="143">stability</text></g>
<g id="n-purification"><circle class="G" cx="144" cy="106" r="4"/><text class="s" style="font-size:8.3px" x="145" y="106">purification</text></g>
<g id="n-immobilization"><circle class="G" cx="90" cy="93" r="3"/><text class="s" x="90" y="93">immobilization</text></g>
<g id="n-lipase"><circle class="G" cx="78" cy="127" r="5"/><text class="s" style="font-size:8.6px" x="78" y="125">lipase</text></g>
<g id="n-candida"><text class="s f" x="50" y="132">candida rugosa</text></g>
<g id="n-state-fermentation"><circle class="G" cx="65" cy="167" r="3"/><text class="s f" x="65" y="167">state fermentation</text></g>
<g id="n-ultrasound"><circle class="G" cx="67" cy="191" r="3.5"/><text class="s" x="67" y="192">ultrasound</text></g>
<g id="n-catalyst"><circle class="G" cx="54" cy="206" r="3"/><text class="s" x="54" y="207">catalyst</text></g>
<g id="n-free-fatty-acids"><text class="s" x="105" y="218">free fatty-acids</text></g>
<g id="n-fuel"><circle class="C" cx="152" cy="219" r="3.5"/><text class="s" x="152" y="219">fuel</text></g>
<g id="n-vegetable-oil"><circle class="G" cx="79" cy="256" r="5"/><text class="s" x="80" y="256">vegetable-oil</text></g>
<g id="n-blends"><circle class="G" cx="122" cy="251" r="3"/><text class="s" x="120" y="251">blends</text></g>
<g id="n-ethyl-esters"><circle class="G" cx="138" cy="287" r="3"/><text class="s" x="138" y="287">ethyl esters</text></g>
<g id="n-macauba-fruit"><circle class="C" cx="96" cy="176" r="3.5"/><text class="s" style="font-size:8.2px" x="96" y="177">macauba fruit</text></g>
<g id="n-fuels"><circle class="C" cx="179" cy="288" r="3"/><text class="s" x="179" y="288">fuels</text></g>
<g id="n-glycerol"><circle class="P" cx="67" cy="246" r="4"/><text class="s f" x="67" y="246">glycerol</text></g>
<g id="n-methanol"><text class="s f" x="26" y="248">methanol</text></g>
<g id="n-shell"><circle class="P" cx="57" cy="282" r="3"/><text class="s" x="61" y="282">shell</text></g>
<g id="n-methyl-acetate"><circle class="P" cx="55" cy="303" r="4"/><text class="s" style="font-size:8.3px" x="55" y="302">methyl acetate</text></g>
<g id="n-esters-production"><circle class="P" cx="35" cy="312" r="3"/><text class="s f" style="font-size:7.4px" x="32" y="312">esters production</text></g>
<g id="n-macauba-pulp-oil"><circle class="P" cx="53" cy="325" r="5"/><text class="s" style="font-size:8.7px" x="54" y="325">macauba pulp oil</text></g>
<g id="n-ethyl-esters-2"><circle class="P" cx="107" cy="329" r="4"/><text class="s f" x="107" y="330">ethyl-esters</text></g>
<g id="n-catalyst-free-production"><circle class="P" cx="85" cy="343" r="3.5"/><text class="s" x="87" y="344">catalyst-free production</text></g>
<g id="n-jatropha-curcas"><circle class="P" cx="158" cy="346" r="3"/><text class="s" x="159" y="346">jatropha curcas l.</text></g>
<g id="n-seed-oil"><circle class="P" cx="152" cy="302" r="3.5"/><text class="s" x="151" y="302">seed oil</text></g>
</g>
</svg>
